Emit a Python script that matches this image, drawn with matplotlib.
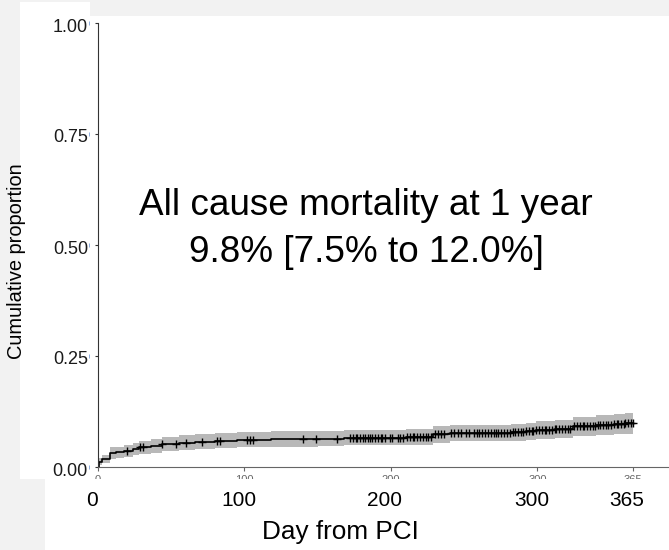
import numpy as np
import matplotlib
matplotlib.use('Agg')
import matplotlib.pyplot as plt
from matplotlib.patches import Rectangle
from matplotlib.transforms import ScaledTranslation

plt.rcParams['font.family'] = ['Liberation Sans', 'DejaVu Sans']

# cumulative incidence (step at each event day) with 95% CI
days = [0, 0.5, 3, 8, 12, 18, 24, 28, 36, 44, 55, 66, 80, 95, 118, 150, 168, 210,
        229, 240, 282, 292, 299, 312, 324, 340, 352, 360, 365]
est = [0, 0.012, 0.019, 0.031, 0.033, 0.036, 0.040, 0.044, 0.048, 0.052, 0.055, 0.057,
       0.059, 0.061, 0.063, 0.064, 0.066, 0.068, 0.074, 0.076, 0.078, 0.080, 0.083,
       0.085, 0.092, 0.094, 0.096, 0.098, 0.098]
lower = [0, 0.004, 0.008, 0.018, 0.020, 0.022, 0.026, 0.029, 0.032, 0.036, 0.038, 0.040,
         0.042, 0.044, 0.046, 0.047, 0.049, 0.050, 0.055, 0.058, 0.059, 0.061, 0.063,
         0.065, 0.070, 0.072, 0.074, 0.075, 0.075]
upper = [0, 0.020, 0.028, 0.044, 0.046, 0.050, 0.055, 0.059, 0.063, 0.068, 0.071, 0.074,
         0.077, 0.079, 0.081, 0.082, 0.084, 0.086, 0.092, 0.094, 0.097, 0.100, 0.103,
         0.106, 0.113, 0.117, 0.119, 0.121, 0.121]

# censoring times
censored = [20, 29, 31, 44, 53, 60, 71, 81, 83, 102, 104, 106, 140, 149, 163,
            172, 174, 176, 177, 179, 181, 182, 184, 186, 187, 189, 191, 193, 194, 196,
            199, 201, 205, 206, 208, 211, 213, 215, 216, 218, 220, 222, 224, 225, 227,
            230, 232, 234, 236, 241, 243, 246, 248, 251, 253, 257, 259, 260, 262, 264,
            266, 268, 270, 272, 273, 275, 277, 279, 281, 283, 285, 287, 289, 290, 292,
            294, 296, 297, 299, 301, 303, 305, 306, 308, 310, 312, 313, 315, 317, 319,
            321, 322, 325, 327, 329, 331, 332, 334, 336, 338, 339, 341, 343, 345, 347,
            348, 350, 352, 354, 355, 357, 359, 360, 362, 364, 365]

xticks = [0, 100, 200, 300, 365]
yticks = [0, 0.25, 0.5, 0.75, 1.0]
ytick_labels = ['0.00', '0.25', '0.50', '0.75', '1.00']
note1 = 'All cause mortality at 1 year'
note2 = '9.8% [7.5% to 12.0%]'

W, H = 669, 550
fig = plt.figure(figsize=(W / 100, H / 100), dpi=100, facecolor='#f2f2f2')

# white panels behind the plot
fig.add_artist(Rectangle((20 / W, 1 - 479 / H), 70 / W, 477 / H, transform=fig.transFigure,
                         facecolor='white', edgecolor='none', zorder=-2))
fig.add_artist(Rectangle((45 / W, 0), 1 - 45 / W, 1 - 16 / H, transform=fig.transFigure,
                         facecolor='white', edgecolor='none', zorder=-2))

ax = fig.add_axes([98 / W, 1 - 467 / H, 1 - 98 / W, 444 / H])
ax.patch.set_alpha(0)

ax.fill_between(days, lower, upper, step='post', color='#b8b8b8', lw=0)
ax.step(days, est, where='post', color='black', lw=1.2)

idx = np.searchsorted(days, censored, side='right') - 1
cy = np.array(est)[idx]
ax.plot(censored, cy, ls='none', marker='+', ms=6, mew=1.0, color='black')

ax.set_xlim(0, 389.8)
ax.set_ylim(0, 1)
for s in ['top', 'right']:
    ax.spines[s].set_visible(False)
ax.spines['left'].set_color('#333333')
ax.spines['left'].set_linewidth(0.8)
ax.spines['bottom'].set_color('#666666')
ax.spines['bottom'].set_linewidth(0.8)

ax.set_xticks(xticks)
ax.set_xticklabels([str(t) for t in xticks])
ax.tick_params(axis='x', length=3, width=0.8, color='#666666', labelsize=8,
               labelcolor='#666666', pad=3)
ax.set_yticks(yticks)
ax.set_yticklabels([])
ax.tick_params(axis='y', length=2.2, width=0.8, color='#333333')

# y tick labels, drawn a little below the ticks
down = ScaledTranslation(0, -4 / 100, fig.dpi_scale_trans)
for v, lab in zip(yticks, ytick_labels):
    ax.text(-10 / 571, v, lab, transform=ax.get_yaxis_transform() + down,
            ha='right', va='center', fontsize=13, color='#1a1a1a', clip_on=False)
ax.plot([-8.5 / 571] * len(yticks), yticks, transform=ax.get_yaxis_transform(),
        ls='none', marker='|', ms=3, mew=0.6, color='#7da0d8', clip_on=False)

# lower strip covers the small tick labels
ax.add_artist(Rectangle((45 / W, 0), 1 - 45 / W, 1 - 479 / H, transform=fig.transFigure,
                        facecolor='white', edgecolor='none', zorder=3, clip_on=False))
left = ScaledTranslation(-6 / 100, 0, fig.dpi_scale_trans)
for t in xticks:
    ax.text(t, -33 / 444, str(t), transform=ax.get_xaxis_transform() + left,
            ha='center', va='center', fontsize=15, zorder=4, clip_on=False)
ax.text(0.425, -65 / 444, 'Day from PCI', transform=ax.transAxes, ha='center', va='center',
        fontsize=18.8, zorder=4, clip_on=False)

fig.text(17 / W, 1 - 261.5 / H, 'Cumulative proportion', rotation=90, ha='center',
         va='center', fontsize=14.4)

ax.text(183, 0.5676, note1, ha='center', va='baseline', fontsize=26.6)
ax.text(183, 0.4617, note2, ha='center', va='baseline', fontsize=26.6)

fig.savefig('out.png', dpi=100, facecolor=fig.get_facecolor())
